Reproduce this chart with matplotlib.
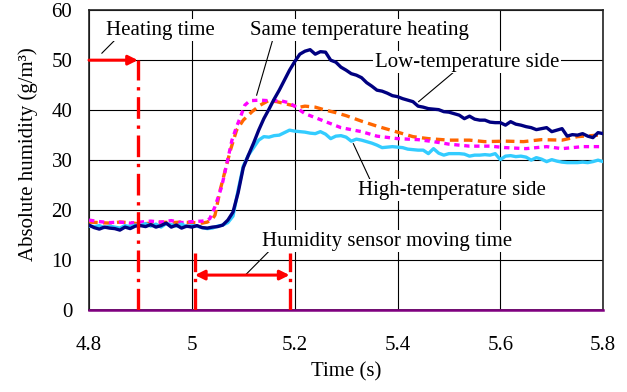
import matplotlib
matplotlib.use("Agg")
import matplotlib.pyplot as plt

plt.rcParams['font.family'] = ['Liberation Serif', 'DejaVu Serif']

# low-temperature side (navy)
t_low = [4.80, 4.81, 4.82, 4.83, 4.84, 4.85, 4.86, 4.87, 4.88, 4.89, 4.90, 4.91, 4.92, 4.93,
         4.94, 4.95, 4.96, 4.97, 4.98, 4.99, 5.00, 5.01, 5.02, 5.03, 5.04, 5.05, 5.06, 5.07,
         5.08, 5.09, 5.10, 5.11, 5.12, 5.13, 5.14, 5.15, 5.16, 5.17, 5.18, 5.19, 5.20, 5.21,
         5.22, 5.23, 5.24, 5.25, 5.26, 5.27, 5.28, 5.29, 5.30, 5.31, 5.32, 5.33, 5.34, 5.35,
         5.36, 5.37, 5.38, 5.39, 5.40, 5.41, 5.42, 5.43, 5.44, 5.45, 5.46, 5.47, 5.48, 5.49,
         5.50, 5.51, 5.52, 5.53, 5.54, 5.55, 5.56, 5.57, 5.58, 5.59, 5.60, 5.61, 5.62, 5.63,
         5.64, 5.65, 5.66, 5.67, 5.68, 5.69, 5.70, 5.71, 5.72, 5.73, 5.74, 5.75, 5.76, 5.77,
         5.78, 5.79, 5.80]
h_low = [17.0, 16.5, 16.2, 16.6, 16.4, 16.3, 16.0, 16.6, 16.3, 16.8, 16.9, 16.7, 17.1, 16.6,
         16.9, 17.4, 16.6, 17.0, 16.4, 16.8, 16.6, 16.9, 16.5, 16.4, 16.6, 16.7, 17.0, 18.0,
         19.6, 23.5, 28.5, 31.0, 33.4, 36.0, 38.3, 40.2, 42.2, 44.0, 46.0, 48.0, 49.7, 51.2,
         51.8, 52.1, 51.2, 51.7, 51.6, 50.0, 49.6, 48.6, 48.0, 47.3, 47.0, 46.5, 45.5, 44.8,
         44.0, 43.8, 43.4, 42.9, 42.7, 42.3, 42.0, 41.7, 40.8, 40.6, 40.3, 40.2, 40.1, 39.7,
         39.6, 39.3, 39.0, 38.3, 38.8, 38.2, 38.0, 38.0, 37.6, 37.5, 37.5, 37.0, 37.7, 37.2,
         37.0, 36.7, 36.5, 36.1, 36.3, 36.5, 35.7, 36.0, 36.3, 34.8, 35.1, 35.0, 35.3, 34.8,
         34.5, 35.5, 35.3]

# high-temperature side (cyan)
t_high = t_low
h_high = [16.8, 16.7, 16.9, 16.5, 16.8, 16.6, 16.4, 16.9, 16.7, 17.0, 16.9, 17.3, 16.8, 17.2,
          16.6, 17.3, 17.1, 16.8, 17.2, 16.7, 16.9, 16.8, 16.5, 16.3, 16.4, 16.8, 17.0, 17.5,
          18.8, 24.0, 28.8, 31.0, 32.5, 34.0, 34.7, 34.6, 34.9, 35.0, 35.5, 36.0, 35.8, 35.7,
          35.6, 35.4, 35.3, 35.7, 35.2, 34.3, 34.8, 34.9, 34.6, 33.8, 34.2, 34.0, 33.7, 33.4,
          33.0, 32.5, 32.6, 32.7, 32.6, 32.5, 32.2, 32.1, 32.0, 32.0, 31.3, 32.3, 31.4, 31.0,
          31.3, 31.3, 31.3, 31.2, 30.8, 31.0, 31.0, 31.1, 31.0, 31.3, 30.1, 30.8, 30.9, 30.7,
          30.8, 30.6, 30.0, 30.5, 30.2, 29.7, 30.1, 29.8, 29.6, 29.5, 29.5, 29.5, 29.6, 29.5,
          29.7, 30.0, 29.7]

# same temperature heating, sensor 1 (orange)
t_same1 = [4.80, 4.82, 4.84, 4.86, 4.88, 4.90, 4.92, 4.94, 4.96, 4.98, 5.00, 5.02, 5.03, 5.04,
           5.045, 5.055, 5.065, 5.075, 5.087, 5.10, 5.117, 5.133, 5.149, 5.165, 5.185, 5.21,
           5.22, 5.24, 5.26, 5.28, 5.30, 5.33, 5.36, 5.40, 5.43, 5.46, 5.50, 5.54, 5.57, 5.61,
           5.645, 5.68, 5.72, 5.75, 5.79, 5.80]
h_same1 = [17.6, 17.5, 17.4, 17.6, 17.5, 17.2, 17.4, 17.6, 17.5, 17.6, 17.5, 17.4, 17.6, 18.2,
           19.0, 24.0, 28.0, 32.0, 36.0, 38.0, 39.7, 41.0, 41.9, 41.7, 41.2, 40.6,
           40.8, 40.6, 40.0, 39.5, 38.9, 37.8, 36.8, 35.6, 34.7, 34.3, 34.0, 34.0, 33.7, 33.8,
           33.7, 34.1, 34.0, 34.7, 35.0, 35.2]

# same temperature heating, sensor 2 (magenta)
t_same2 = [4.80, 4.82, 4.84, 4.86, 4.88, 4.90, 4.92, 4.94, 4.96, 4.98, 5.00, 5.02, 5.03, 5.035,
           5.045, 5.058, 5.068, 5.078, 5.087, 5.094, 5.103, 5.113, 5.133, 5.149, 5.172, 5.188,
           5.20, 5.21, 5.22, 5.25, 5.29, 5.33, 5.36, 5.40, 5.44, 5.47, 5.50, 5.54, 5.58, 5.61,
           5.65, 5.69, 5.72, 5.76, 5.80]
h_same2 = [18.0, 17.7, 17.5, 17.6, 17.4, 17.6, 17.8, 17.6, 17.9, 17.5, 17.7, 17.8, 18.0, 18.3,
           20.7, 24.7, 29.3, 34.0, 36.7, 38.5, 41.0, 41.9, 42.0, 41.9, 41.9, 41.5,
           40.8, 40.0, 39.3, 38.1, 36.5, 35.7, 34.8, 34.3, 34.1, 33.7, 33.2, 32.8, 32.8, 32.5,
           32.3, 32.7, 32.3, 32.7, 32.7]

heat_end = 4.895
move_start = 5.006
move_end = 5.19

fs = 15

fig = plt.figure(figsize=(6.27, 3.92), dpi=100)
ax = fig.add_axes([0.142, 0.209, 0.820, 0.765])

ax.set_xlim(4.8, 5.8)
ax.set_ylim(0, 60)
ax.set_xticks([4.8, 5.0, 5.2, 5.4, 5.6, 5.8])
ax.set_xticklabels(['4.8', '5', '5.2', '5.4', '5.6', '5.8'])
ax.set_yticks([0, 10, 20, 30, 40, 50, 60])
ax.tick_params(length=0, labelsize=fs)
ax.tick_params(axis='x', pad=19)
ax.tick_params(axis='y', pad=12)
ax.grid(True, color='black', lw=0.8, zorder=0)
ax.set_axisbelow(True)
for s in ax.spines.values():
    s.set_color('#222222')
    s.set_linewidth(1.2)

ax.axhline(0, color='#800080', lw=1.8, zorder=5, clip_on=False)

ax.plot(t_same1, h_same1, color='#FF6600', lw=2.4, ls=(0, (2.6, 1.6)), zorder=4)
ax.plot(t_same2, h_same2, color='#FF00FF', lw=2.4, ls=(0, (1.6, 1.4)), zorder=4)
ax.plot(t_high, h_high, color='#33CCFF', lw=2.4, zorder=4)
ax.plot(t_low, h_low, color='#000080', lw=2.4, zorder=4)

# heating time marker
red = '#FF0000'
dashdot = (0, (6.5, 2.0, 1.0, 2.0))
ax.plot([heat_end, heat_end], [0, 50], color=red, lw=2.4, ls=dashdot, zorder=6)
ax.annotate('', xy=(heat_end, 50), xytext=(4.8, 50),
            arrowprops=dict(arrowstyle='-|>', color=red, lw=2.2,
                            mutation_scale=14, shrinkA=0, shrinkB=0), zorder=6)

# sensor moving time marker
for xv in (move_start, move_end):
    ax.plot([xv, xv], [0, 11.5], color=red, lw=2.4, ls=dashdot, zorder=6)
ax.annotate('', xy=(move_end, 7), xytext=(move_start, 7),
            arrowprops=dict(arrowstyle='<|-|>', color=red, lw=2.2,
                            mutation_scale=14, shrinkA=0, shrinkB=0), zorder=6)

box = dict(facecolor='white', edgecolor='none', pad=1)
labels = [
    ('Heating time', (4.938, 56.0), (4.825, 51.4), (4.854, 54.4)),
    ('Same temperature heating', (5.325, 56.0), (5.126, 43.0), (5.159, 54.7)),
    ('Low-temperature side', (5.535, 49.6), (5.441, 41.7), (5.522, 48.7)),
    ('High-temperature side', (5.506, 24.0), (5.314, 33.3), (5.347, 26.0)),
    ('Humidity sensor moving time', (5.380, 13.8), (5.104, 7.0), (5.159, 12.7)),
]
for txt, pos, p0, p1 in labels:
    ax.plot([p0[0], p1[0]], [p0[1], p1[1]], color='black', lw=0.8, zorder=3)
    ax.text(pos[0], pos[1], txt, ha='center', va='center', fontsize=fs,
            bbox=box, zorder=3.5)

ax.set_xlabel('Time (s)', fontsize=fs)
ax.set_ylabel('Absolute humidity (g/m³)', fontsize=fs)
ax.xaxis.set_label_coords(0.501, -0.175)
ax.yaxis.set_label_coords(-0.100, 0.52)

fig.savefig('out.png', dpi=100)
